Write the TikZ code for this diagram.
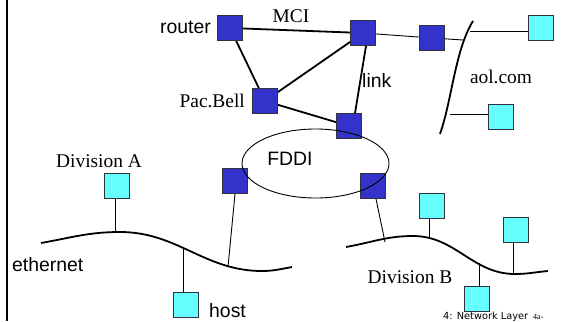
\documentclass[tikz,border=0pt]{standalone}
\usepackage{fontspec}
\setmainfont{Liberation Serif}
\setsansfont{Liberation Sans}
\newfontfamily\footfont{DejaVu Sans}
\usetikzlibrary{shapes.geometric}
\pgfdeclarelayer{background}
\pgfsetlayers{background,main}

\definecolor{routerblue}{RGB}{51,51,204}
\definecolor{hostcyan}{RGB}{102,255,255}
\definecolor{boxedge}{RGB}{50,50,60}

\tikzset{
  x=1pt, y=1pt,
  box/.style={rectangle, draw=boxedge, line width=0.8pt, minimum size=25pt, inner sep=0pt},
  routerbox/.style={box, fill=routerblue},
  hostbox/.style={box, fill=hostcyan},
  trunk/.style={line width=1.8pt, black},
  wire/.style={line width=0.9pt, black},
  lan/.style={line width=1.8pt, black},
  sanslabel/.style={font=\sffamily\fontsize{19.4}{22}\selectfont, inner sep=0pt},
  seriflabel/.style={font=\rmfamily\fontsize{19.4}{22}\selectfont, inner sep=0pt},
}

\begin{document}
\begin{tikzpicture}
\useasboundingbox (0,0) rectangle (561,-321);

% slide edge
\draw[line width=2.5pt] (7,0) -- (7,-321);

% routers
\node[routerbox] (rt)   at (230,-28)  {};
\node[routerbox] (mci)  at (363,-33)  {};
\node[routerbox] (aol)  at (432,-38)  {};
\node[routerbox] (pac)  at (265,-101) {};
\node[routerbox] (lnk)  at (349,-126) {};
\node[routerbox] (fdl)  at (235,-181) {};
\node[routerbox] (fdr)  at (373,-186) {};

% hosts
\node[hostbox] (ha1)  at (541,-28)  {};
\node[hostbox] (ha2)  at (501,-117) {};
\node[hostbox] (hda)  at (117,-186) {};
\node[hostbox] (hst)  at (186,-305) {};
\node[hostbox] (hb1)  at (432,-206) {};
\node[hostbox] (hb2)  at (516,-230) {};
\node[hostbox] (hb3)  at (477,-299) {};

% attachment points on the LAN segments
\coordinate (ac1) at (463,-40);
\coordinate (ac2) at (470,-31);
\coordinate (ac3) at (450,-114);
\coordinate (ea1) at (115,-232);
\coordinate (ea2) at (183,-249);
\coordinate (ea3) at (228,-267);
\coordinate (eb0) at (385,-242);
\coordinate (eb1) at (429,-238);
\coordinate (eb2) at (513,-273);
\coordinate (eb3) at (479,-263);

\begin{pgfonlayer}{background}
  % backbone links
  \draw[trunk] (rt) -- (mci);
  \draw[trunk] (rt) -- (pac);
  \draw[trunk] (pac) -- (mci);
  \draw[trunk] (pac) -- (lnk);
  \draw[trunk] ([xshift=3pt]mci.south) -- ([xshift=6pt]lnk.north);
  \draw[wire] (mci) -- (aol);
  \draw[wire] (aol) -- (ac1);
  \draw[wire] (ac2) -- (ac2 -| ha1.west);
  \draw[wire] (ac3) -- (ac3 -| ha2.west);
  % drops to the ethernets
  \draw[wire] (hda.south -| ea1) -- (ea1);
  \draw[wire] (ea2) -- (ea2 |- hst.north);
  \draw[wire] (fdl.south) -- (ea3);
  \draw[wire] ([xshift=3pt]fdr.south) -- (eb0);
  \draw[wire] (hb1.south -| eb1) -- (eb1);
  \draw[wire] (hb2.south -| eb2) -- (eb2);
  \draw[wire] (eb3) -- (eb3 |- hb3.north);
\end{pgfonlayer}

% aol.com network
\draw[lan] (473,-21) .. controls (455,-50) and (452,-100) .. (440,-134);

% ethernet of Division A
\draw[lan] (41,-243) to[out=10,in=180] (120,-232) to[out=0,in=180] (262,-271)
  to[out=0,in=190] (292,-267);

% ethernet of Division B
\draw[lan] (346,-247) to[out=10,in=180] (413,-236) to[out=0,in=180] (515,-274)
  to[out=0,in=185] (548,-271);

% FDDI ring
\node[ellipse, draw, line width=0.9pt, minimum width=147pt, minimum height=69pt, inner sep=0pt]
  (ring) at (315.5,-163.5) {};

% labels
\node[sanslabel, anchor=east] (lrt) at (211,-27) {router};
\node[seriflabel] (lmci) at (291,-16) {MCI};
\node[seriflabel, anchor=east] (lpac) at (245,-101) {Pac.Bell};
\node[sanslabel, anchor=west] (llnk) at (362,-80) {link};
\node[seriflabel] (laol) at (501,-77) {aol.com};
\node[sanslabel] (lfddi) at (290,-159) {FDDI};
\node[seriflabel] (lda) at (99,-161) {Division A};
\node[sanslabel, anchor=west] (leth) at (12,-265) {ethernet};
\node[sanslabel, anchor=west] (lhst) at (209,-311) {host};
\node[seriflabel] (ldb) at (410,-277) {Division B};

% footer
\node[font=\footfont\fontsize{9.8}{11}\selectfont, inner sep=0pt, anchor=base west] (ft1) at (443,-319) {4: Network Layer};
\node[font=\rmfamily\fontsize{8}{9}\selectfont, inner sep=0pt, anchor=base west] (ft2) at (533,-319) {4a-};
\end{tikzpicture}
\end{document}
